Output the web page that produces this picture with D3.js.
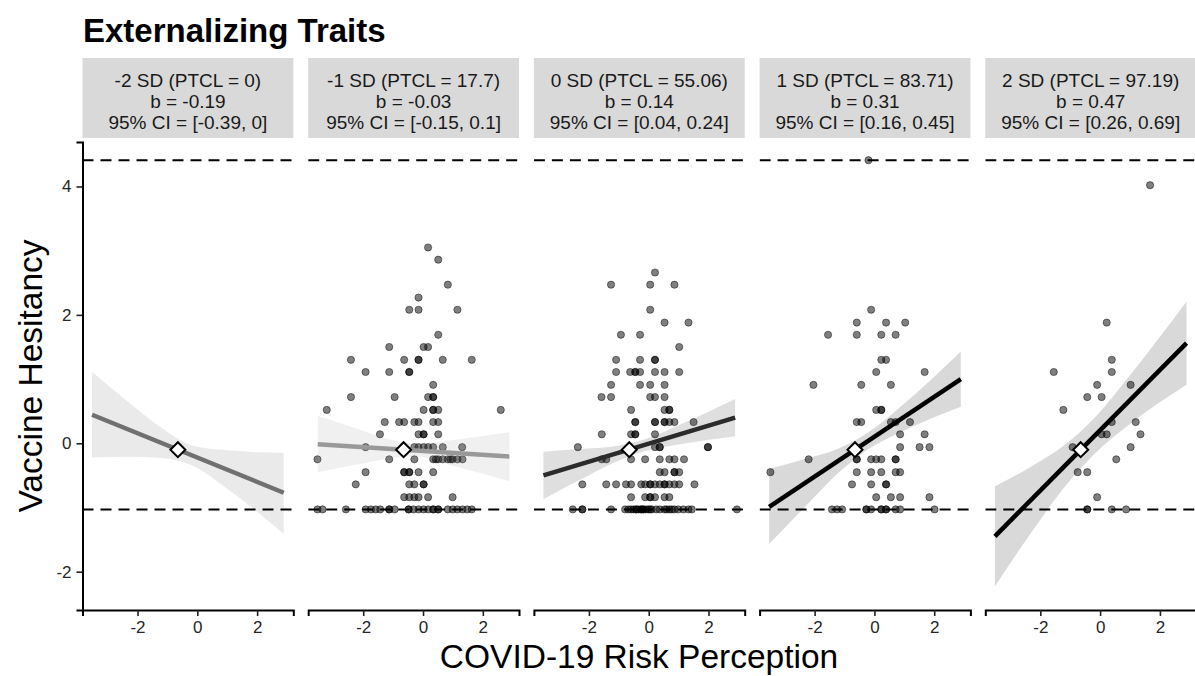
<!DOCTYPE html>
<html><head><meta charset="utf-8">
<script src="https://cdn.jsdelivr.net/npm/d3@7"></script>
<style>
body{margin:0;background:#fff}
svg{display:block;font-family:"Liberation Sans",Arial,Helvetica,sans-serif}
</style>
</head><body>
<svg id="chart" width="1195" height="676"></svg>
<script>
// ---------- data ----------
const chartTitle = "Externalizing Traits";
const xTitle = "COVID-19 Risk Perception";
const yTitle = "Vaccine Hesitancy";
const panelLabels = ["-2 SD (PTCL = 0)", "-1 SD (PTCL = 17.7)", "0 SD (PTCL = 55.06)", "1 SD (PTCL = 83.71)", "2 SD (PTCL = 97.19)"];
const slopeLabels = ["b = -0.19", "b = -0.03", "b = 0.14", "b = 0.31", "b = 0.47"];
const ciLabels = ["95% CI = [-0.39, 0]", "95% CI = [-0.15, 0.1]", "95% CI = [0.04, 0.24]", "95% CI = [0.16, 0.45]", "95% CI = [0.26, 0.69]"];
const xTicks = [-2, 0, 2];
const xTickLabels = ["-2", "0", "2"];
const yTicks = [-2, 0, 2, 4];
const yTickLabels = ["-2", "0", "2", "4"];
const xDomain = [-3.84, 3.21];
const yDomain = [-2.597, 4.693];
const scaleBounds = [-1.03, 4.41];          // dashed reference lines
const meanPoint = [-0.65, -0.10];           // diamond
const lineX = [-3.52, 2.89];
const lineStartY = [0.445, -0.014, -0.50, -0.99, -1.45];
const lineEndY = [-0.77, -0.206, 0.40, 1.00, 1.56];
const ribbonX = [-3.52, -2.3, -1.2, -0.2, 1.0, 2.89];
const ribbonLo = [
  [-0.22, -0.21, -0.23, -0.34, -0.71, -1.41],
  [-0.45, -0.34, -0.24, -0.21, -0.35, -0.59],
  [-0.87, -0.57, -0.31, -0.13, -0.02, 0.11],
  [-1.57, -0.98, -0.46, -0.09, 0.20, 0.57],
  [-2.23, -1.39, -0.69, -0.17, 0.30, 0.91]
];
const ribbonHi = [
  [1.11, 0.64, 0.24, -0.03, -0.11, -0.15],
  [0.43, 0.24, 0.07, -0.01, 0.05, 0.17],
  [-0.13, -0.09, -0.05, 0.05, 0.28, 0.69],
  [-0.40, -0.24, -0.08, 0.17, 0.62, 1.43],
  [-0.67, -0.36, -0.03, 0.39, 1.06, 2.21]
];
// scatter rows: [vaccine hesitancy, [risk perception values]]
const points1 = [];
const points2 = [
  [3.05, [0.17]],
  [2.86, [0.51]],
  [2.47, [0.83]],
  [2.27, [-0.15]],
  [2.08, [-0.46, -0.15, 1.15]],
  [1.69, [0.51]],
  [1.50, [-1.13, 0.02, 0.17]],
  [1.30, [-2.41, -0.63, -0.15, -0.15, 0.66, 1.63]],
  [1.11, [-1.92, -1.13, -0.46, -0.46]],
  [0.91, [0.34]],
  [0.72, [-2.41, -0.95, 0.17, 0.34, 0.34]],
  [0.52, [-3.22, 0.02, 0.34, 0.34, 0.51, 2.60]],
  [0.33, [-1.28, -0.80, -0.63, -0.29, -0.15, 0.34, 0.51]],
  [0.14, [-1.44, -0.15, 0.02, 0.02, 0.51]],
  [-0.06, [-1.92, -0.29, -0.15, 0.02, 0.17, 0.34, 0.66, 1.31]],
  [-0.25, [-3.53, -1.13, -0.29, 0.34, 0.43, 0.51, 0.66, 0.83, 0.92, 0.99, 1.15, 1.32]],
  [-0.45, [-1.92, -0.63, -0.63, -0.46, -0.46, -0.15, 0.34]],
  [-0.64, [-2.25, -0.46, -0.29, 0.02, 0.02]],
  [-0.84, [-0.63, -0.46, -0.29, -0.15, 0.17, 0.99]],
  [-1.03, [-3.53, -3.36, -2.58, -1.92, -1.74, -1.58, -1.43, -1.13, -1.13, -0.95, -0.48, -0.48, -0.32, -0.15, 0.02, 0.17, 0.34, 0.34, 0.51, 0.51, 0.83, 0.99, 1.15, 1.32, 1.48, 1.63]]
];
const points3 = [
  [2.66, [0.21]],
  [2.47, [-1.26, 0.05, 0.86]],
  [2.08, [0.05]],
  [1.88, [0.53, 1.33]],
  [1.69, [-0.93, -0.29]],
  [1.50, [1.02]],
  [1.30, [-1.09, -0.29, 0.21, 0.21]],
  [1.11, [-1.09, -0.62, -0.45, -0.45, -0.29, 0.21, 0.53, 1.02]],
  [0.91, [-1.26, -0.29, 0.05, 0.53]],
  [0.72, [-1.58, -1.26, 0.05, 0.21, 0.53]],
  [0.52, [-0.59, 0.53, 0.69, 0.69]],
  [0.33, [-0.45, -0.45, 0.21, 0.21, 0.53, 0.53, 0.69, 0.86, 1.50]],
  [0.14, [-1.57, -0.59, -0.45, -0.45, 0.21]],
  [-0.06, [-2.37, 0.21, 0.37, 0.37, 1.98, 1.98]],
  [-0.25, [-1.57, -1.42, -0.59, -0.12, 0.37, 0.69, 0.86, 1.18]],
  [-0.45, [0.37, 0.53, 0.86, 0.86, 1.02]],
  [-0.64, [-2.22, -1.42, -1.09, -0.76, -0.59, -0.25, -0.12, 0.05, 0.05, 0.21, 0.37, 0.53, 0.53, 0.69, 0.86, 1.02, 1.53]],
  [-0.84, [-0.59, -0.12, 0.05, 0.05, 0.21, 0.53, 0.69]],
  [-1.03, [-2.54, -2.22, -2.22, -1.26, -0.79, -0.68, -0.59, -0.51, -0.42, -0.42, -0.34, -0.25, -0.25, -0.18, -0.18, -0.09, -0.01, 0.05, 0.10, 0.25, 0.37, 0.53, 0.60, 0.69, 0.77, 0.86, 0.99, 1.16, 1.33, 1.44, 2.95]]
];
const points4 = [
  [4.41, [-0.20]],
  [2.08, [-0.11]],
  [1.88, [-0.59, 0.39, 1.03]],
  [1.69, [-1.55, -0.59, 0.23, 0.71]],
  [1.30, [0.23, 0.39]],
  [1.11, [0.06, 1.68]],
  [0.91, [-2.04, -0.44, 0.55]],
  [0.52, [0.06, 0.23, 0.23]],
  [0.33, [-0.59, -0.44, 0.55, 0.71, 1.19]],
  [0.14, [0.86, 1.68]],
  [-0.06, [0.86, 1.51, 1.84]],
  [-0.25, [-2.20, -0.59, -0.59, -0.11, 0.06, 0.23, 0.71, 0.71]],
  [-0.45, [-3.48, -0.59, -0.11, 0.23, 0.71, 0.86]],
  [-0.64, [-0.75, -0.11, 0.39, 0.39]],
  [-0.84, [0.06, 0.55, 0.86, 1.84]],
  [-1.03, [-1.42, -1.25, -1.08, -0.27, -0.27, -0.11, 0.23, 0.23, 0.39, 0.39, 0.71, 0.86, 2.01]]
];
const points5 = [
  [4.02, [1.67]],
  [1.88, [0.22]],
  [1.30, [0.39]],
  [1.11, [-1.55, 0.39]],
  [0.91, [-0.10, 1.02]],
  [0.72, [-0.43, 0.05]],
  [0.52, [-1.23]],
  [0.33, [0.39, 1.19]],
  [0.14, [0.05, 0.22, 1.35]],
  [-0.06, [-0.92, 1.02]],
  [-0.25, [0.54]],
  [-0.45, [-0.75, -0.43]],
  [-0.84, [-0.10]],
  [-1.03, [-0.43, -0.43, 0.39, 0.87]]
];
const panelPoints = [points1, points2, points3, points4, points5];

// ---------- style ----------
const lineColors = ["#707070", "#999999", "#2b2b2b", "#000000", "#000000"];
const panelLeft0 = 82.5, panelPitch = 225.7, panelW = 210.8;
const panelTop = 142, panelBottom = 610;
const stripTop = 58, stripBottom = 138;
const tickFont = 17, stripFont = 19, axisTitleFont = 33.5;

const svg = d3.select("#chart");
const y = d3.scaleLinear().domain(yDomain).range([panelBottom, panelTop]);

// title
svg.append("text").attr("x", 83).attr("y", 42)
  .attr("font-size", 33).attr("font-weight", "bold").attr("fill", "#000")
  .text(chartTitle);

panelLabels.forEach((lab, i) => {
  const x0 = panelLeft0 + i * panelPitch;
  const x = d3.scaleLinear().domain(xDomain).range([x0, x0 + panelW]);
  const g = svg.append("g");

  // strip
  g.append("rect").attr("x", x0).attr("y", stripTop)
    .attr("width", panelW).attr("height", stripBottom - stripTop)
    .attr("fill", "#d9d9d9");
  const cx = x0 + panelW / 2;
  [lab, slopeLabels[i], ciLabels[i]].forEach((t, j) => {
    g.append("text").attr("x", cx).attr("y", 87 + j * 21)
      .attr("text-anchor", "middle").attr("font-size", stripFont).attr("fill", "#1a1a1a")
      .text(t);
  });

  // clip
  const clipId = "clip" + i;
  svg.append("clipPath").attr("id", clipId).append("rect")
    .attr("x", x0).attr("y", panelTop).attr("width", panelW).attr("height", panelBottom - panelTop);
  const pg = g.append("g").attr("clip-path", `url(#${clipId})`);

  // points
  const pts = [];
  panelPoints[i].forEach(([vy, xs]) => xs.forEach(vx => pts.push([vx, vy])));
  pg.selectAll("circle.pt").data(pts).enter().append("circle")
    .attr("class", "pt")
    .attr("cx", d => x(d[0])).attr("cy", d => y(d[1])).attr("r", 3.6)
    .attr("fill", "#000").attr("fill-opacity", 0.5)
    .attr("stroke", "#000").attr("stroke-opacity", 0.45).attr("stroke-width", 1);

  // ribbon
  const rib = ribbonX.map((vx, k) => [vx, ribbonLo[i][k], ribbonHi[i][k]]);
  pg.append("path").datum(rib)
    .attr("d", d3.area().x(d => x(d[0])).y0(d => y(d[1])).y1(d => y(d[2])).curve(d3.curveMonotoneX))
    .attr("fill", lineColors[i]).attr("fill-opacity", 0.15);

  // dashed bounds
  scaleBounds.forEach(b => {
    pg.append("line").attr("x1", x0).attr("x2", x0 + panelW)
      .attr("y1", y(b)).attr("y2", y(b))
      .attr("stroke", "#000").attr("stroke-width", 2).attr("stroke-dasharray", "11,7");
  });

  // regression line
  pg.append("line")
    .attr("x1", x(lineX[0])).attr("y1", y(lineStartY[i]))
    .attr("x2", x(lineX[1])).attr("y2", y(lineEndY[i]))
    .attr("stroke", lineColors[i]).attr("stroke-width", 4.5);

  // diamond
  const mx = x(meanPoint[0]), my = y(meanPoint[1]), r = 7.5;
  pg.append("path")
    .attr("d", `M${mx},${my - r}L${mx + r},${my}L${mx},${my + r}L${mx - r},${my}Z`)
    .attr("fill", "#fff").attr("stroke", "#000").attr("stroke-width", 2);

  // x axis
  const xa = g.append("g").attr("transform", `translate(0,${panelBottom})`)
    .call(d3.axisBottom(x).tickValues(xTicks).tickSize(6).tickPadding(5)
      .tickFormat((d, k) => xTickLabels[k]));
  xa.select(".domain").attr("stroke", "#000").attr("stroke-width", 2);
  xa.selectAll(".tick line").attr("stroke", "#222").attr("stroke-width", 1.6);
  xa.selectAll(".tick text").attr("font-size", tickFont).attr("fill", "#262626")
    .attr("font-family", "Liberation Sans, Arial, sans-serif");

  if (i === 0) {
    const ya = g.append("g").attr("transform", `translate(${x0},0)`)
      .call(d3.axisLeft(y).tickValues(yTicks).tickSize(6).tickPadding(5)
        .tickFormat((d, k) => yTickLabels[k]));
    ya.select(".domain").attr("stroke", "#000").attr("stroke-width", 2);
    ya.selectAll(".tick line").attr("stroke", "#222").attr("stroke-width", 1.6);
    ya.selectAll(".tick text").attr("font-size", tickFont).attr("fill", "#262626")
      .attr("font-family", "Liberation Sans, Arial, sans-serif");
  }
});

// axis titles
svg.append("text").attr("x", 639).attr("y", 668).attr("text-anchor", "middle")
  .attr("font-size", axisTitleFont).attr("fill", "#000").text(xTitle);
svg.append("text").attr("transform", `translate(42,376) rotate(-90)`)
  .attr("text-anchor", "middle").attr("font-size", axisTitleFont).attr("fill", "#000").text(yTitle);
</script>
</body></html>
